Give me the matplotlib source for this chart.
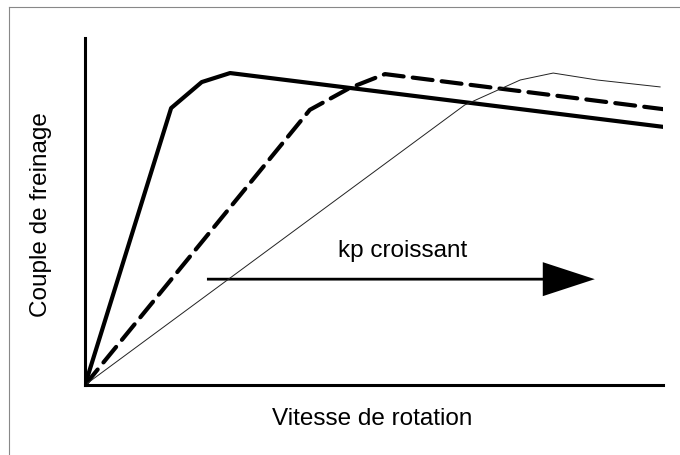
import numpy as np
import matplotlib
matplotlib.use("Agg")
import matplotlib.pyplot as plt
from matplotlib.lines import Line2D

plt.rcParams['font.family'] = ['Liberation Sans', 'DejaVu Sans']

# braking torque vs rotation speed, 3 curves (kp increasing), arbitrary units 0-100
x_kp_fort = [0, 14.9, 20.2, 25.1, 100]
y_kp_fort = [0, 79.8, 87.3, 89.9, 74.4]

x_kp_moyen = [0, 38.9, 45.8, 51.9, 100]
y_kp_moyen = [0, 79.3, 85.6, 89.6, 79.5]

x_kp_faible = [0, 65.7, 75.3, 81.0, 88.6, 99.5]
y_kp_faible = [0, 80.7, 87.9, 89.9, 87.9, 85.9]

arrow_start = (21.1, 30.5)
arrow_end = (88.2, 30.5)
arrow_label = "kp croissant"

fig = plt.figure(figsize=(6.8, 4.55), dpi=100)
ax = fig.add_axes([85/680, 1 - 385/455, (663 - 85)/680, (385 - 38)/455])

ax.plot(x_kp_fort, y_kp_fort, color='black', lw=3, solid_joinstyle='round')
ax.plot(x_kp_moyen, y_kp_moyen, color='black', lw=3, dashes=(4.8, 2.2),
        dash_capstyle='round')
ax.plot(x_kp_faible, y_kp_faible, color='#222222', lw=0.7)

# arrow "kp croissant"
head_len = 9.0
ax.arrow(arrow_start[0], arrow_start[1], arrow_end[0] - arrow_start[0], 0,
         width=0.8, head_width=9.8, head_length=head_len,
         length_includes_head=True, color='black', lw=0)
ax.text(55.0, 38.6, arrow_label, ha='center', va='center', fontsize=17.5)

ax.set_xlim(0, 100)
ax.set_ylim(0, 100)
for s in ['top', 'right']:
    ax.spines[s].set_visible(False)
ax.spines['left'].set_linewidth(2.2)
ax.spines['bottom'].set_linewidth(2.2)
ax.set_xticks([])
ax.set_yticks([])

fig.text(372/680, 1 - 419/455, "Vitesse de rotation", ha='center', va='center',
         fontsize=17.5)
fig.text(41/680, 1 - 215/455, "Couple de freinage", ha='center', va='center',
         rotation=90, fontsize=17.5)

# frame around figure (top and left edges visible in the scan)
fig.add_artist(Line2D([9/680, 1], [1 - 7/455] * 2, transform=fig.transFigure,
                      color='#888888', lw=0.8))
fig.add_artist(Line2D([9/680] * 2, [0, 1 - 7/455], transform=fig.transFigure,
                      color='#888888', lw=0.8))

fig.savefig('out.png', dpi=100)
